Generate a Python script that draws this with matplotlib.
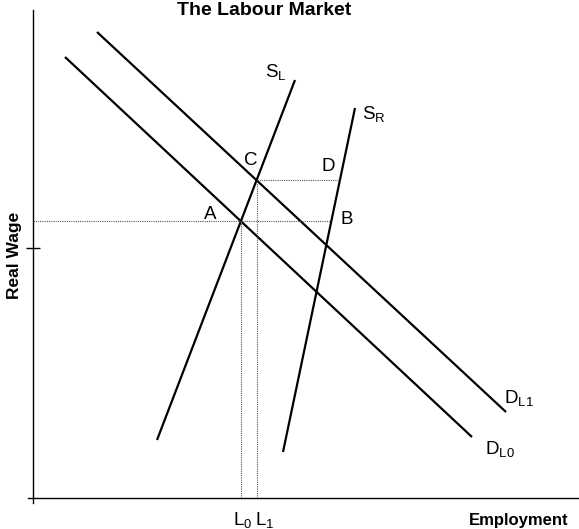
import numpy as np
import matplotlib
matplotlib.use("Agg")
import matplotlib.pyplot as plt

plt.rcParams['font.family'] = ['Liberation Sans', 'DejaVu Sans']
plt.rcParams['mathtext.fontset'] = 'custom'
plt.rcParams['mathtext.rm'] = 'Liberation Sans'
plt.rcParams['mathtext.it'] = 'Liberation Sans'

# Curves: endpoints (employment, real wage) in arbitrary units
curve_names = ["D_L0", "D_L1", "S_L", "S_R"]
curve_x = {"D_L0": [32, 439], "D_L1": [64, 473], "S_L": [124, 262], "S_R": [250, 322]}
curve_y = {"D_L0": [441, 61], "D_L1": [466, 86], "S_L": [58, 418], "S_R": [46, 390]}
curve_labels = {"D_L0": "D$_{\\mathrm{L0}}$", "D_L1": "D$_{\\mathrm{L1}}$",
                "S_L": "S$_{\\mathrm{L}}$", "S_R": "S$_{\\mathrm{R}}$"}
y_tick = [250]

def line_coef(name):
    x0, x1 = curve_x[name]
    y0, y1 = curve_y[name]
    m = (y1 - y0) / (x1 - x0)
    return m, y0 - m * x0

def intersect(a, b):
    m1, c1 = line_coef(a)
    m2, c2 = line_coef(b)
    x = (c2 - c1) / (m1 - m2)
    return x, m1 * x + c1

def x_at_y(name, y):
    m, c = line_coef(name)
    return (y - c) / m

fig = plt.figure(figsize=(5.79, 5.29), dpi=100)
W, H = 579, 529
# origin at pixel (33, 498); axes extended by 5px left and below
ax = fig.add_axes([28 / W, (H - 503) / H, (579 - 28) / W, (503 - 10) / H])
ax.set_xlim(-5, 546)
ax.set_ylim(-5, 488)

for n in curve_names:
    ax.plot(curve_x[n], curve_y[n], color='black', lw=1.6, solid_capstyle='butt')

A = intersect("D_L0", "S_L")
C = intersect("D_L1", "S_L")
B = (x_at_y("S_R", A[1]), A[1])
D = (x_at_y("S_R", C[1]), C[1])

dot = dict(color='#555555', lw=0.8, linestyle=(0, (1, 1)))
ax.plot([0, B[0]], [A[1], A[1]], **dot)
ax.plot([C[0], D[0]], [C[1], C[1]], **dot)
ax.plot([A[0], A[0]], [0, A[1]], **dot)
ax.plot([C[0], C[0]], [0, C[1]], **dot)

fs = 13.5
ax.text(A[0] - 37, A[1] - 2, "A", fontsize=fs, ha='left', va='bottom')
ax.text(B[0] + 9, A[1] - 7, "B", fontsize=fs, ha='left', va='bottom')
ax.text(C[0] - 13, C[1] + 11, "C", fontsize=fs, ha='left', va='bottom')
ax.text(D[0] - 18, D[1] + 5, "D", fontsize=fs, ha='left', va='bottom')
ax.text(232, 416, curve_labels["S_L"], fontsize=fs, ha='left', va='bottom')
ax.text(329, 374, curve_labels["S_R"], fontsize=fs, ha='left', va='bottom')
ax.text(471, 90, curve_labels["D_L1"], fontsize=fs, ha='left', va='bottom')
ax.text(452, 39, curve_labels["D_L0"], fontsize=fs, ha='left', va='bottom')

for s in ['top', 'right']:
    ax.spines[s].set_visible(False)
for s in ['left', 'bottom']:
    ax.spines[s].set_linewidth(1.0)
    ax.spines[s].set_position(('data', 0))
ax.spines['left'].set_bounds(-5, 488)
ax.spines['bottom'].set_bounds(-5, 546)
ax.set_xticks([])
ax.set_yticks(y_tick)
ax.set_yticklabels([])
ax.tick_params(axis='y', direction='inout', length=10, width=1.0)

fig.text(264 / W, 1 - 15 / H, "The Labour Market", fontsize=14, fontweight='bold',
         ha='center', va='baseline')
fig.text(15 / W, 1 - 255 / H, "Real Wage", fontsize=12.5, fontweight='bold',
         rotation=90, ha='center', va='center')
fig.text(569 / W, 1 - 525 / H, "Employment", fontsize=12, fontweight='bold',
         ha='right', va='baseline')
fig.text((A[0] + 33 + 2) / W, 1 - 525 / H, "L$_{\\mathrm{0}}$", fontsize=fs,
         ha='center', va='baseline')
fig.text((C[0] + 33 + 8) / W, 1 - 525 / H, "L$_{\\mathrm{1}}$", fontsize=fs,
         ha='center', va='baseline')

fig.savefig("out.png", dpi=100)
